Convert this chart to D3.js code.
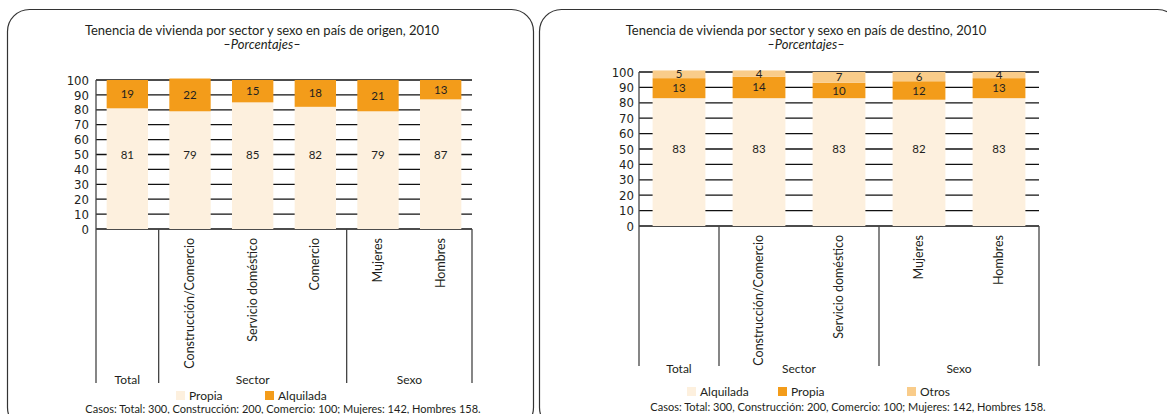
<!DOCTYPE html>
<html>
<head>
<meta charset="utf-8">
<title>Tenencia de vivienda</title>
<style>
  html, body { margin:0; padding:0; background:#fff; }
  svg { display:block; }
  text { fill:#231f20; }
</style>
<script src="https://d3js.org/d3.v7.min.js"></script>
</head>
<body>
<svg id="canvas" width="1167" height="414"></svg>
<script>
  // --- data: pais de origen ---
  var origenCats = ["Total", "Construcción/Comercio", "Servicio doméstico", "Comercio", "Mujeres", "Hombres"];
  var origenPropia = [81, 79, 85, 82, 79, 87];
  var origenAlquilada = [19, 22, 15, 18, 21, 13];
  var origenGroups = ["Total", "Sector", "Sexo"];
  var origenGroupSizes = [1, 3, 2];

  // --- data: pais de destino ---
  var destinoCats = ["Total", "Construcción/Comercio", "Servicio doméstico", "Mujeres", "Hombres"];
  var destinoAlquilada = [83, 83, 83, 82, 83];
  var destinoPropia = [13, 14, 10, 12, 13];
  var destinoOtros = [5, 4, 7, 6, 4];
  var destinoGroups = ["Total", "Sector", "Sexo"];
  var destinoGroupSizes = [1, 2, 2];

  var yTicks = [0, 10, 20, 30, 40, 50, 60, 70, 80, 90, 100];

  var cLight = "#fdf0de", cOrange = "#f39c1a", cOtros = "#f9cc8a";
  var font = "Lato, 'Open Sans', sans-serif";
  var narrow = "'DejaVu Sans Condensed', 'Liberation Sans Narrow', sans-serif";

  var svg = d3.select("#canvas");

  // panel frames
  svg.append("rect").attr("x", 7.5).attr("y", 9.5).attr("width", 526).attr("height", 420)
    .attr("rx", 22).attr("fill", "none").attr("stroke", "#333").attr("stroke-width", 1.2);
  svg.append("rect").attr("x", 539.5).attr("y", 9.5).attr("width", 640).attr("height", 420)
    .attr("rx", 22).attr("fill", "none").attr("stroke", "#333").attr("stroke-width", 1.2);

  function drawPanel(opt) {
    var g = svg.append("g");
    var cats = opt.cats;
    var x = d3.scaleBand().domain(cats).range(opt.xr).paddingInner(0.34).paddingOuter(0.17);
    var y = d3.scaleLinear().domain([0, 100]).range(opt.yr);
    var step = x.step();

    // titles
    g.append("text").attr("x", opt.cx).attr("y", 35).attr("text-anchor", "middle")
      .style("font-family", font).style("font-size", "13px").text(opt.title);
    g.append("text").attr("x", opt.cx).attr("y", 49).attr("text-anchor", "middle")
      .style("font-family", font).style("font-size", "13px").style("font-style", "italic")
      .text("–Porcentajes–");

    // gridlines
    g.selectAll(".grid").data(yTicks).enter().append("line")
      .attr("x1", opt.xr[0]).attr("x2", opt.xr[1])
      .attr("y1", function(d) { return y(d); }).attr("y2", function(d) { return y(d); })
      .attr("stroke", "#111").attr("stroke-width", 1.3);

    // tick labels
    g.selectAll(".tick").data(yTicks).enter().append("text")
      .attr("x", opt.xr[0] - opt.tickGap).attr("y", function(d) { return y(d); })
      .attr("dy", "0.36em").attr("text-anchor", "end")
      .style("font-family", narrow).style("font-size", opt.tickSize)
      .text(function(d) { return d; });

    // stacked bars
    var stackKeys = opt.series.map(function(s) { return s.name; });
    var rows = cats.map(function(c, i) {
      var r = { cat: c };
      opt.series.forEach(function(s) { r[s.name] = s.values[i]; });
      return r;
    });
    var stacked = d3.stack().keys(stackKeys)(rows);
    stacked.forEach(function(layer, li) {
      var col = opt.series[li].color;
      g.selectAll(".seg" + li).data(layer).enter().append("rect")
        .attr("x", function(d) { return x(d.data.cat); })
        .attr("y", function(d) { return y(d[1]); })
        .attr("width", x.bandwidth())
        .attr("height", function(d) { return y(d[0]) - y(d[1]); })
        .attr("fill", col);
      g.selectAll(".lab" + li).data(layer).enter().append("text")
        .attr("x", function(d) { return x(d.data.cat) + x.bandwidth() / 2; })
        .attr("y", function(d) { return li === 0 ? y(50) : y((d[0] + d[1]) / 2); })
        .attr("dy", "0.35em").attr("text-anchor", "middle")
        .style("font-family", font).style("font-size", "11.5px")
        .text(function(d) { return d[1] - d[0]; });
    });

    // axis line
    g.append("line").attr("x1", opt.xr[0]).attr("x2", opt.xr[0])
      .attr("y1", opt.yr[1]).attr("y2", opt.yr[0])
      .attr("stroke", "#444").attr("stroke-width", 1.3);

    // group separators and labels
    var pos = 0;
    var bounds = [0];
    opt.groupSizes.forEach(function(n) { pos += n; bounds.push(pos); });
    g.selectAll(".sep").data(bounds).enter().append("line")
      .attr("x1", function(d) { return opt.xr[0] + d * step; })
      .attr("x2", function(d) { return opt.xr[0] + d * step; })
      .attr("y1", opt.yr[0]).attr("y2", opt.sepBottom)
      .attr("stroke", "#444").attr("stroke-width", 1.3);
    g.selectAll(".grp").data(opt.groups).enter().append("text")
      .attr("x", function(d, i) { return opt.xr[0] + (bounds[i] + bounds[i + 1]) / 2 * step; })
      .attr("y", opt.groupY).attr("text-anchor", "middle")
      .style("font-family", font).style("font-size", "12px")
      .text(function(d) { return d; });

    // rotated category labels
    g.selectAll(".cat").data(cats.slice(1)).enter().append("text")
      .attr("transform", function(d) {
        return "translate(" + (x(d) + x.bandwidth() / 2 + 4) + "," + (opt.yr[0] + 9) + ") rotate(-90)";
      })
      .attr("text-anchor", "end")
      .style("font-family", font).style("font-size", "12.5px")
      .text(function(d) { return d; });

    // legend
    var lg = g.selectAll(".leg").data(opt.legend).enter().append("g")
      .attr("transform", function(d) { return "translate(" + d.x + "," + opt.legendY + ")"; });
    lg.append("rect").attr("width", 9).attr("height", 9).attr("fill", function(d) { return d.color; });
    lg.append("text").attr("x", 13).attr("y", 9)
      .style("font-family", font).style("font-size", "12px")
      .text(function(d) { return d.name; });

    // footer
    g.append("text").attr("x", opt.footX).attr("y", opt.footY).attr("text-anchor", "middle")
      .style("font-family", font).style("font-size", "11px")
      .text("Casos: Total: 300, Construcción: 200, Comercio: 100; Mujeres: 142, Hombres 158.");
  }

  drawPanel({
    title: "Tenencia de vivienda por sector y sexo en país de origen, 2010",
    cx: 262, cats: origenCats, xr: [96, 472], yr: [229, 80],
    tickGap: 7, tickSize: "13px",
    series: [
      { name: "Propia", values: origenPropia, color: cLight },
      { name: "Alquilada", values: origenAlquilada, color: cOrange }
    ],
    groups: origenGroups, groupSizes: origenGroupSizes,
    sepBottom: 383, groupY: 384,
    legendY: 391,
    legend: [{ name: "Propia", color: cLight, x: 176 }, { name: "Alquilada", color: cOrange, x: 265 }],
    footX: 283, footY: 413
  });

  drawPanel({
    title: "Tenencia de vivienda por sector y sexo en país de destino, 2010",
    cx: 806, cats: destinoCats, xr: [639, 1039], yr: [226, 72],
    tickGap: 5, tickSize: "13px",
    series: [
      { name: "Alquilada", values: destinoAlquilada, color: cLight },
      { name: "Propia", values: destinoPropia, color: cOrange },
      { name: "Otros", values: destinoOtros, color: cOtros }
    ],
    groups: destinoGroups, groupSizes: destinoGroupSizes,
    sepBottom: 366, groupY: 373,
    legendY: 387,
    legend: [{ name: "Alquilada", color: cLight, x: 687 }, { name: "Propia", color: cOrange, x: 778 }, { name: "Otros", color: cOtros, x: 907 }],
    footX: 848, footY: 411
  });
</script>
</body>
</html>
